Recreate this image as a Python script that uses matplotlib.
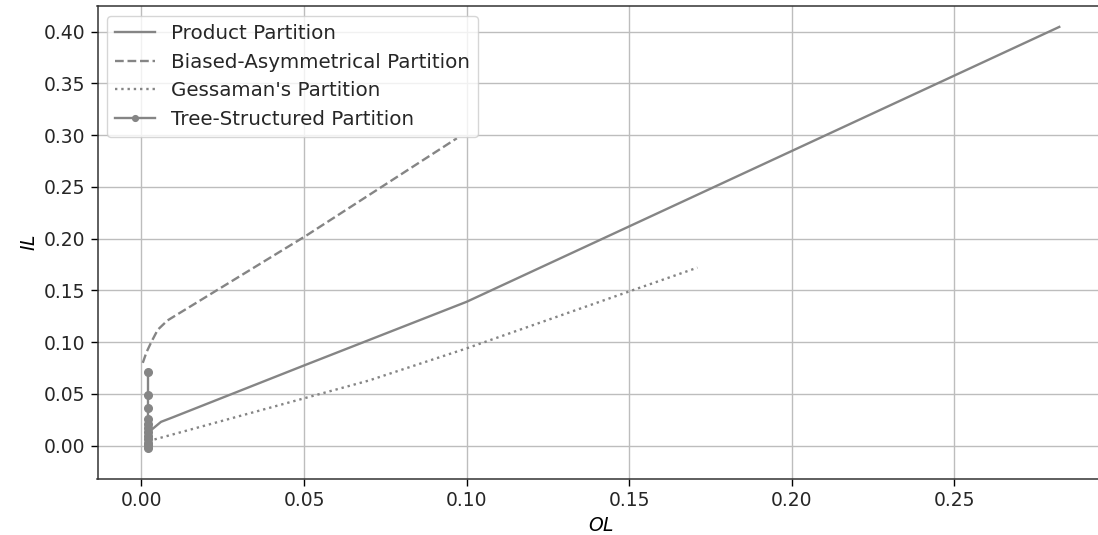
import matplotlib
matplotlib.use("Agg")
import matplotlib.pyplot as plt

# Data
product_x = [0.0031, 0.0060, 0.0098, 0.0496, 0.1000, 0.2823]
product_y = [0.0154, 0.0230, 0.0276, 0.0770, 0.1390, 0.4046]

biased_x = [0.0004, 0.0015, 0.0030, 0.0050, 0.0080, 0.0507, 0.0970]
biased_y = [0.0800, 0.0900, 0.1000, 0.1120, 0.1210, 0.2030, 0.2970]

gessaman_x = [0.0040, 0.0700, 0.1000, 0.1500, 0.1710]
gessaman_y = [0.0060, 0.0630, 0.0940, 0.1490, 0.1720]

tree_x = [0.0020, 0.0020, 0.0020, 0.0020, 0.0020, 0.0020, 0.0020,
          0.0020, 0.0020, 0.0020, 0.0020, 0.0020]
tree_y = [0.071, 0.049, 0.036, 0.026, 0.021, 0.017, 0.013, 0.009,
          0.006, 0.003, 0.001, -0.002]

labels = ["Product Partition", "Biased-Asymmetrical Partition",
          "Gessaman's Partition", "Tree-Structured Partition"]

plt.rcParams['font.family'] = ['DejaVu Sans']
plt.rcParams['font.size'] = 13.5
plt.rcParams['text.color'] = '#262626'
plt.rcParams['xtick.labelcolor'] = '#262626'
plt.rcParams['ytick.labelcolor'] = '#262626'

fig = plt.figure(figsize=(10.98, 5.35), dpi=100)
ax = fig.add_axes([97.5 / 1098, 55.7 / 535, (1105 - 97.5) / 1098, (479.3 - 5.7) / 535])

col = '#858585'
lw = 1.7
ax.plot(product_x, product_y, '-', color=col, lw=lw, label=labels[0])
ax.plot(biased_x, biased_y, '--', color=col, lw=lw, label=labels[1])
ax.plot(gessaman_x, gessaman_y, ':', color=col, lw=lw, label=labels[2])
ax.plot(tree_x, tree_y, '-o', color=col, lw=lw, ms=5.5, label=labels[3])

ax.set_xlim(-0.01353, 0.29637)
ax.set_ylim(-0.0325, 0.4251)
ax.set_xticks([0.00, 0.05, 0.10, 0.15, 0.20, 0.25])
ax.set_yticks([0.00, 0.05, 0.10, 0.15, 0.20, 0.25, 0.30, 0.35, 0.40])
ax.tick_params(labelsize=13.5, width=1.0, length=5)
for s in ax.spines.values():
    s.set_linewidth(1.1)
    s.set_color('#333333')
ax.grid(True, color='#bdbdbd', lw=1.0)
ax.set_axisbelow(True)
ax.set_xlabel('$OL$', fontsize=13.5)
ax.set_ylabel('$IL$', fontsize=13.5)
ax.legend(loc='upper left', fontsize=14.3, markerscale=0.75)

fig.savefig('out.png', dpi=100)
